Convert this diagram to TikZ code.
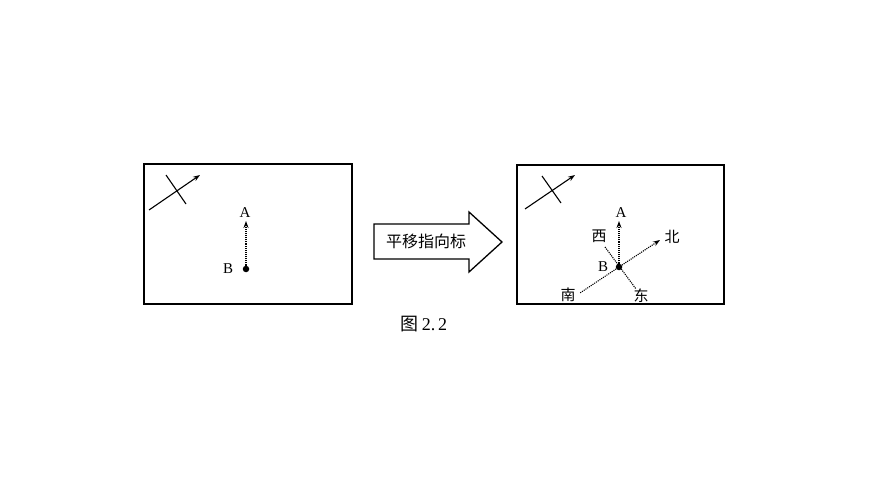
\documentclass[tikz,border=0pt]{standalone}
\usepackage{fontspec}
\setmainfont{Liberation Serif}
\newfontfamily\cjk{Noto Sans CJK SC}
\usetikzlibrary{arrows.meta,shapes.arrows}
\begin{document}
\begin{tikzpicture}[x=1pt,y=-1pt,
  frame/.style={draw=black,line width=1.3pt},
  solidarr/.style={line width=1.1pt,-{Stealth[length=7pt,width=5pt]}},
  plain/.style={line width=1.1pt},
  dotarr/.style={line width=1.1pt,densely dotted,-{Stealth[length=7pt,width=5pt]}},
  dotline/.style={line width=1.1pt,densely dotted},
  lbl/.style={font=\fontsize{15}{15}\selectfont,inner sep=0pt},
  clbl/.style={font=\cjk\fontsize{15}{15}\selectfont,inner sep=0pt},
  dot/.style={circle,fill=black,inner sep=0pt,minimum size=6.5pt}]
\useasboundingbox[fill=white] (0,0) rectangle (870,489);
% left box
\node[frame,minimum width=208pt,minimum height=140pt,inner sep=0pt] (L) at (248,234) {};
\coordinate (l1) at (149,210); \coordinate (l2) at (200,175);
\coordinate (l3) at (166,175); \coordinate (l4) at (186,204);
\draw[solidarr] (l1) -- (l2);
\draw[plain] (l3) -- (l4);
\node[dot] (LB) at (246,269) {};
\coordinate (LAt) at (246,221);
\draw[dotarr] (LB) -- (LAt);
\node[lbl] (LA) at (245,213) {A};
\node[lbl] (LBl) at (228,269) {B};
% right box
\node[frame,minimum width=207pt,minimum height=139pt,inner sep=0pt] (R) at (620.5,234.5) {};
\coordinate (r1) at (525,209); \coordinate (r2) at (575,175);
\coordinate (r3) at (542,176); \coordinate (r4) at (561,203);
\draw[solidarr] (r1) -- (r2);
\draw[plain] (r3) -- (r4);
\node[dot] (RB) at (619,267) {};
\coordinate (RAt) at (619,221);
\coordinate (Nt) at (660,240);
\coordinate (St) at (580,293);
\coordinate (Wt) at (605,247);
\coordinate (Et) at (636,289);
\draw[dotarr] (RB) -- (RAt);
\draw[dotarr] (RB) -- (Nt);
\draw[dotline] (RB) -- (St);
\draw[dotline] (Wt) -- (Et);
\node[lbl] (RA) at (621,213) {A};
\node[lbl] (RBl) at (603,267) {B};
\node[clbl] (W) at (599,236) {西};
\node[clbl] (N) at (672,237) {北};
\node[clbl] (S) at (568,295) {南};
\node[clbl] (E) at (641,296) {东};
% big arrow
\draw[line width=1.3pt,fill=white] (374,224) -- (469,224) -- (469,212) -- (502,242) -- (469,272) -- (469,259) -- (374,259) -- cycle;
\node[font=\cjk\fontsize{16}{16}\selectfont,inner sep=0pt] (T) at (426,241) {平移指向标};
% caption
\node[font=\fontsize{18}{18}\selectfont,inner sep=0pt] (C) at (424,324) {{\cjk 图}\,2.\,2};
\end{tikzpicture}
\end{document}
